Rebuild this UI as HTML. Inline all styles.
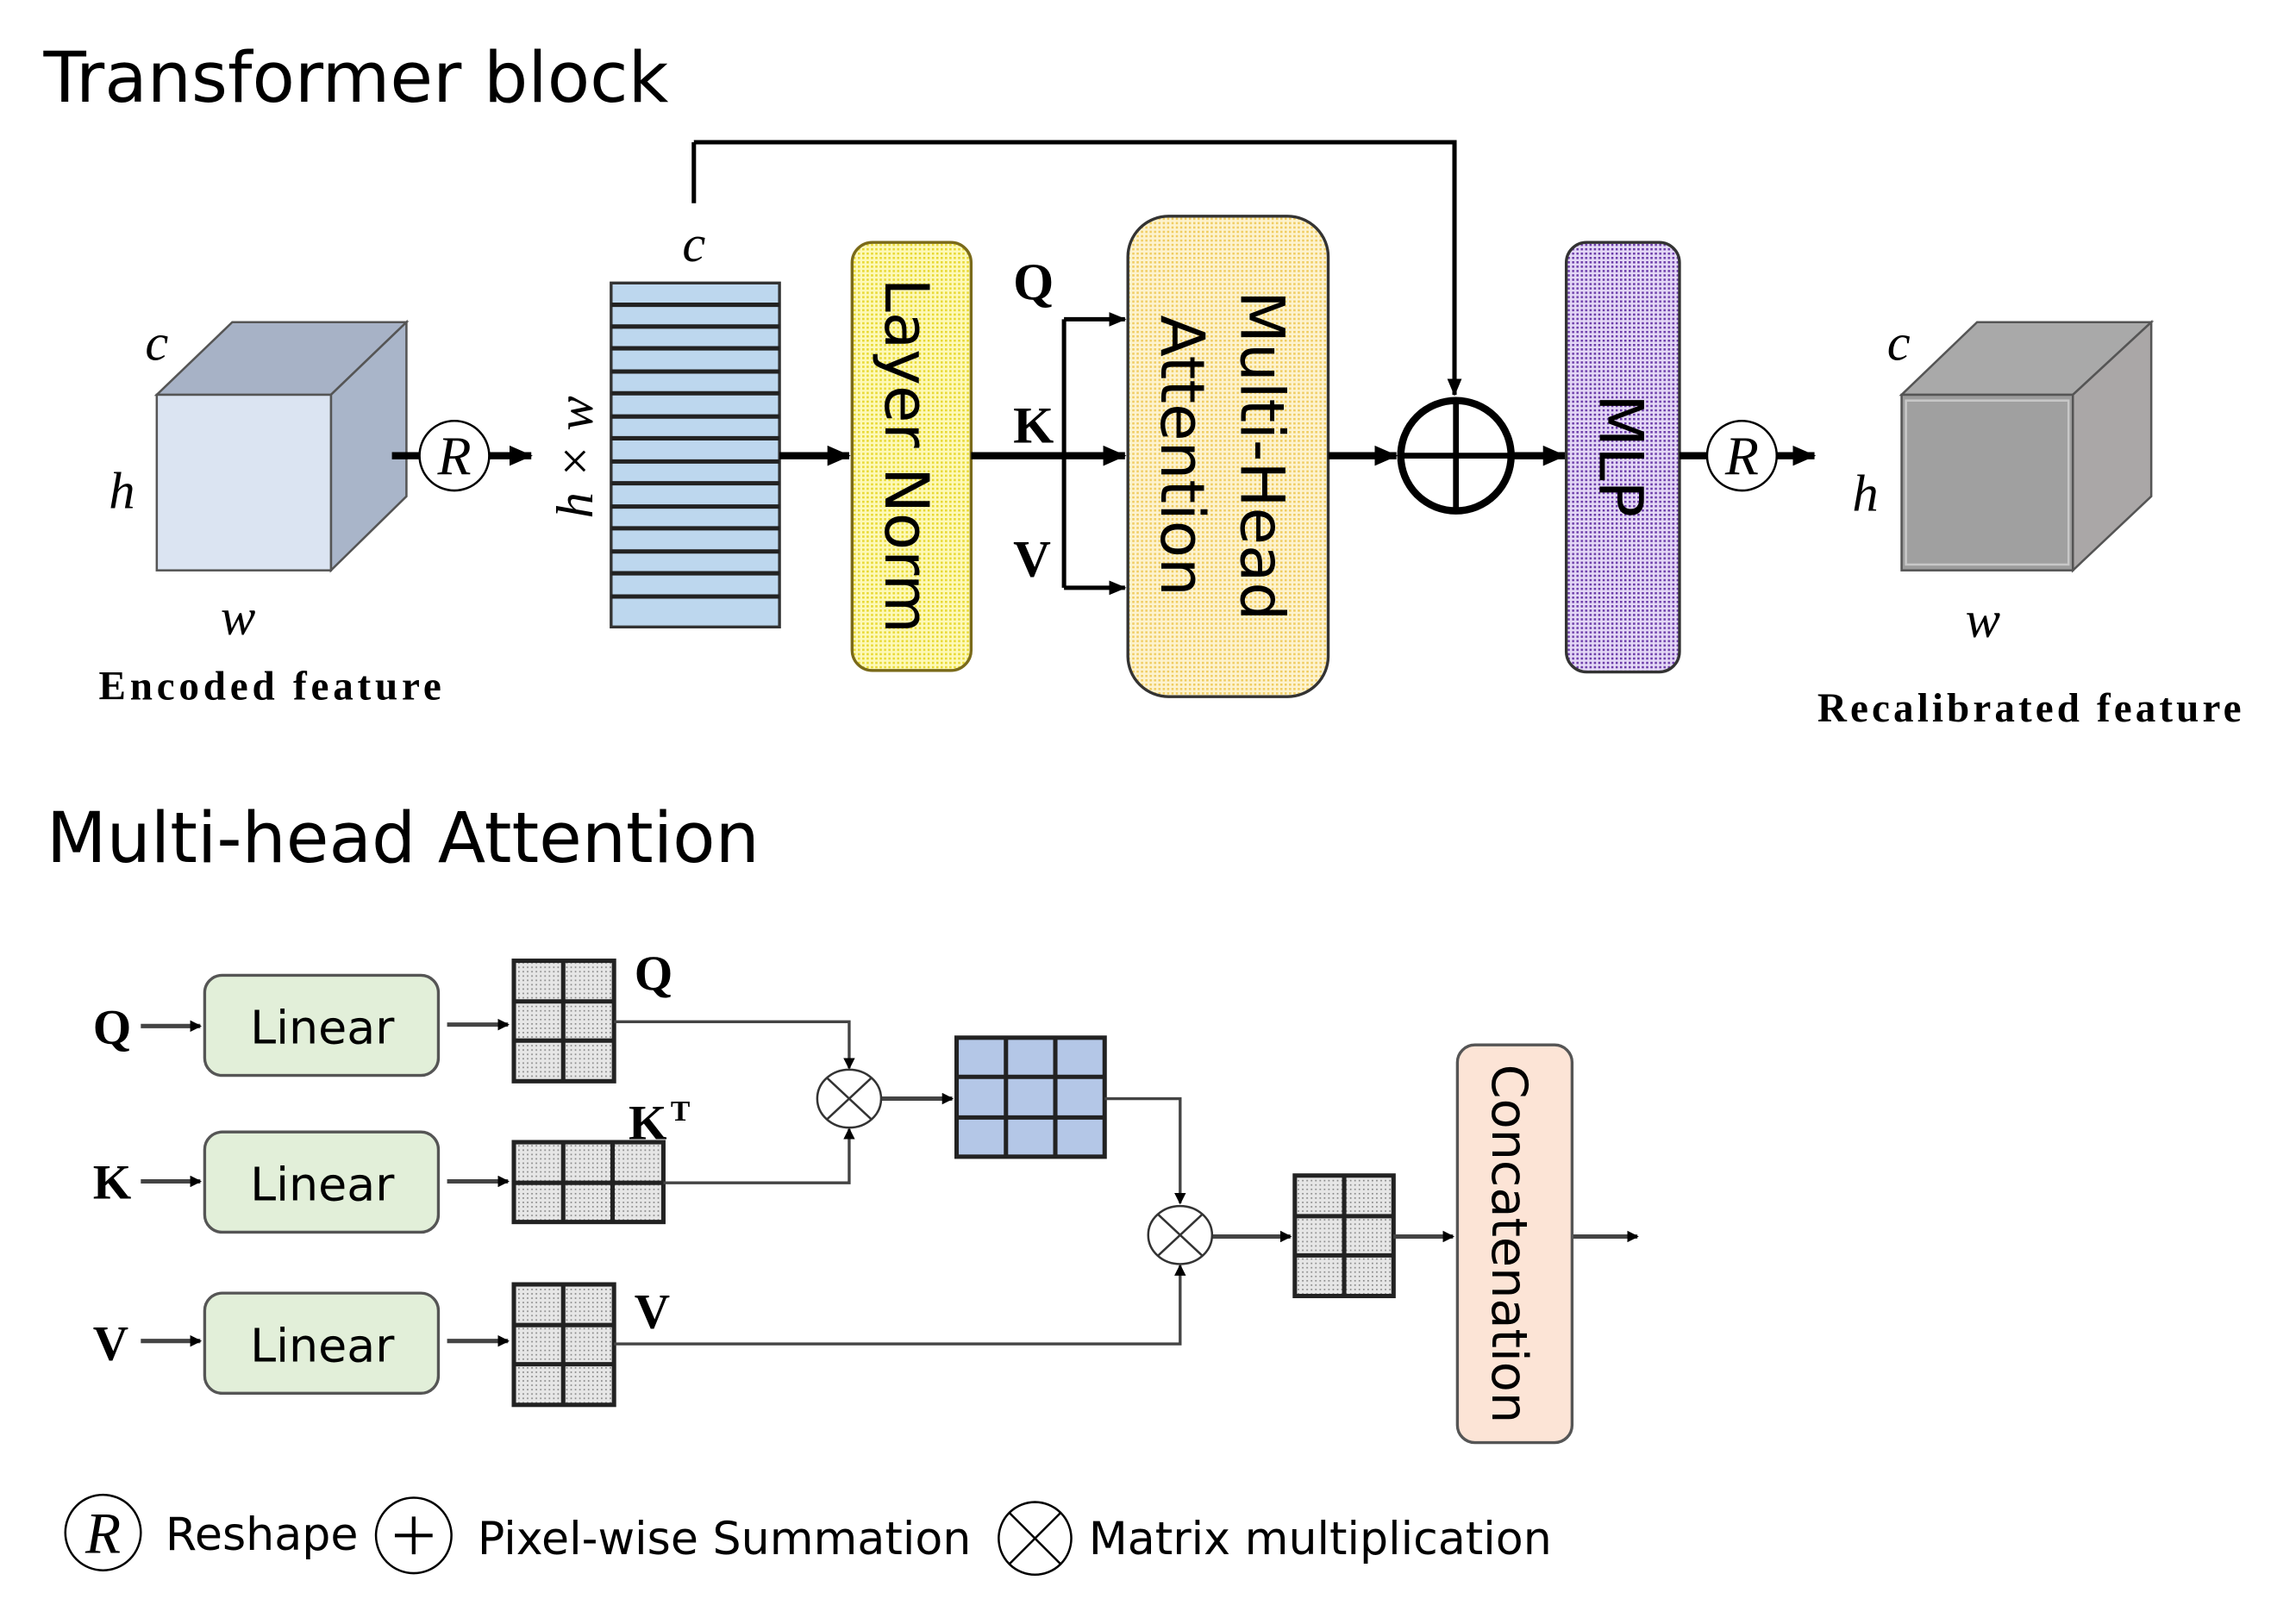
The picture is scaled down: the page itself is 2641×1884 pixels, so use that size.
<!DOCTYPE html>
<html><head><meta charset="utf-8"><style>html,body{margin:0;padding:0;background:#fff}svg{display:block}</style></head>
<body>
<svg width="2641" height="1884" viewBox="0 0 1568 1119" preserveAspectRatio="xMinYMin meet" xmlns="http://www.w3.org/2000/svg">
<defs>
<marker id="a" markerWidth="8" markerHeight="8" refX="7" refY="4" orient="auto" markerUnits="userSpaceOnUse"><path d="M0,0 L8,4 L0,8z" fill="#000"/></marker>
<marker id="b" markerWidth="16" markerHeight="14" refX="15" refY="7" orient="auto" markerUnits="userSpaceOnUse"><path d="M0,0 L16,7 L0,14z" fill="#000"/></marker>
<marker id="c" markerWidth="12" markerHeight="10" refX="11" refY="5" orient="auto" markerUnits="userSpaceOnUse"><path d="M0,0 L12,5 L0,10z" fill="#000"/></marker>
<pattern id="dots" width="3" height="3" patternUnits="userSpaceOnUse"><rect width="3" height="3" fill="#e6e6e6"/><rect width="1" height="1" fill="#888"/></pattern>
<pattern id="pd" width="3" height="3" patternUnits="userSpaceOnUse"><rect width="3" height="3" fill="#e4d8f6"/><rect width="1.5" height="1.5" fill="#6a3aa8"/></pattern>
<pattern id="yd" width="3" height="3" patternUnits="userSpaceOnUse"><rect width="3" height="3" fill="#fdf9b8"/><rect width="1.5" height="1.5" fill="#e8d830"/></pattern>
<pattern id="od" width="3" height="3" patternUnits="userSpaceOnUse"><rect width="3" height="3" fill="#fdf3cf"/><rect width="1.5" height="1.5" fill="#f0cc60"/></pattern>
</defs>
<g font-family="DejaVu Sans, Liberation Sans, sans-serif">
<text x="30" y="70" font-size="48">Transformer block</text>
<text x="32" y="594" font-size="48">Multi-head Attention</text>
</g>
<polygon points="108,272 160,222 280,222 228,272" fill="#a7b2c6" stroke="#555" stroke-width="1.5"/>
<polygon points="228,272 280,222 280,342 228,393" fill="#a9b5c9" stroke="#555" stroke-width="1.5"/>
<rect x="108" y="272" width="120" height="121" fill="#dbe4f2" stroke="#555" stroke-width="1.5"/>
<g font-family="Liberation Serif, serif" font-style="italic" font-size="36">
<text x="100" y="248">c</text><text x="75" y="350">h</text><text x="152" y="437">w</text>
<text x="1300" y="248">c</text><text x="1276" y="352">h</text><text x="1354" y="439">w</text>
<text x="470" y="180">c</text>
</g>
<text x="68" y="482" font-family="Liberation Serif, serif" font-weight="bold" font-size="28" textLength="236">Encoded feature</text>
<text x="1252" y="497" font-family="Liberation Serif, serif" font-weight="bold" font-size="28" textLength="292">Recalibrated feature</text>
<line x1="270" y1="314" x2="366" y2="314" stroke="#000" stroke-width="5" marker-end="url(#b)"/>
<circle cx="313" cy="314" r="24" fill="#fff" stroke="#000" stroke-width="1.5"/>
<text x="313" y="327" text-anchor="middle" font-family="Liberation Serif, serif" font-style="italic" font-size="38">R</text>
<rect x="421" y="195" width="116" height="237" fill="#bdd7ee" stroke="#333" stroke-width="2"/>
<g stroke="#222" stroke-width="3">
<line x1="421" y1="210" x2="537" y2="210"/><line x1="421" y1="225" x2="537" y2="225"/><line x1="421" y1="240" x2="537" y2="240"/><line x1="421" y1="256" x2="537" y2="256"/><line x1="421" y1="271" x2="537" y2="271"/><line x1="421" y1="287" x2="537" y2="287"/><line x1="421" y1="302" x2="537" y2="302"/><line x1="421" y1="318" x2="537" y2="318"/><line x1="421" y1="333" x2="537" y2="333"/><line x1="421" y1="349" x2="537" y2="349"/><line x1="421" y1="364" x2="537" y2="364"/><line x1="421" y1="380" x2="537" y2="380"/><line x1="421" y1="395" x2="537" y2="395"/><line x1="421" y1="411" x2="537" y2="411"/>
</g>
<text transform="translate(408,315) rotate(-90)" text-anchor="middle" font-family="Liberation Serif, serif" font-style="italic" font-size="36">h × w</text>
<line x1="478" y1="140" x2="478" y2="98" stroke="#000" stroke-width="3"/>
<polyline points="478,98 1002,98 1002,272" fill="none" stroke="#000" stroke-width="3" marker-end="url(#c)"/>
<line x1="537" y1="314" x2="585" y2="314" stroke="#000" stroke-width="5" marker-end="url(#b)"/>
<rect x="587" y="167" width="82" height="295" rx="14" fill="url(#yd)" stroke="#7a6a1a" stroke-width="2"/>
<text transform="translate(610,314) rotate(90)" text-anchor="middle" font-family="DejaVu Sans, sans-serif" font-size="42">Layer Norm</text>
<line x1="669" y1="314" x2="775" y2="314" stroke="#000" stroke-width="5" marker-end="url(#b)"/>
<line x1="733" y1="220" x2="733" y2="405" stroke="#000" stroke-width="3"/>
<line x1="733" y1="220" x2="775" y2="220" stroke="#000" stroke-width="3" marker-end="url(#c)"/>
<line x1="733" y1="405" x2="775" y2="405" stroke="#000" stroke-width="3" marker-end="url(#c)"/>
<g font-family="Liberation Serif, serif" font-weight="bold" font-size="36">
<text x="698" y="206">Q</text><text x="698" y="305">K</text><text x="698" y="397">V</text>
</g>
<rect x="777" y="149" width="138" height="331" rx="28" fill="url(#od)" stroke="#333" stroke-width="2"/>
<text transform="translate(855,314) rotate(90)" text-anchor="middle" font-family="DejaVu Sans, sans-serif" font-size="42">Multi-Head</text>
<text transform="translate(800,314) rotate(90)" text-anchor="middle" font-family="DejaVu Sans, sans-serif" font-size="42">Attention</text>
<line x1="915" y1="314" x2="962" y2="314" stroke="#000" stroke-width="5" marker-end="url(#b)"/>
<circle cx="1003" cy="314" r="38" fill="#fff" stroke="#000" stroke-width="5"/>
<line x1="965" y1="314" x2="1041" y2="314" stroke="#000" stroke-width="4"/>
<line x1="1003" y1="276" x2="1003" y2="352" stroke="#000" stroke-width="4"/>
<line x1="1041" y1="314" x2="1078" y2="314" stroke="#000" stroke-width="5" marker-end="url(#b)"/>
<rect x="1079" y="167" width="78" height="296" rx="14" fill="url(#pd)" stroke="#333" stroke-width="2"/>
<text transform="translate(1102,314) rotate(90)" text-anchor="middle" font-family="DejaVu Sans, sans-serif" font-size="42">MLP</text>
<line x1="1157" y1="314" x2="1250" y2="314" stroke="#000" stroke-width="5" marker-end="url(#b)"/>
<circle cx="1200" cy="314" r="24" fill="#fff" stroke="#000" stroke-width="1.5"/>
<text x="1200" y="327" text-anchor="middle" font-family="Liberation Serif, serif" font-style="italic" font-size="38">R</text>
<polygon points="1310,272 1362,222 1482,222 1428,272" fill="#a9a9a9" stroke="#555" stroke-width="1.5"/>
<polygon points="1428,272 1482,222 1482,342 1428,393" fill="#aaa7a7" stroke="#555" stroke-width="1.5"/>
<rect x="1310" y="272" width="118" height="121" fill="#9c9c9c" stroke="#555" stroke-width="1.5"/>
<rect x="1313" y="276" width="112" height="113" fill="#a0a0a0" stroke="#c8c8c8" stroke-width="1.5"/>
<g font-family="Liberation Serif, serif" font-weight="bold" font-size="34">
<text x="64" y="719">Q</text><text x="64" y="826">K</text><text x="64" y="937">V</text>
<text x="437" y="682">Q</text><text x="433" y="785">K</text><text x="462" y="772" font-size="20">T</text><text x="437" y="915">V</text>
</g>
<g stroke="#444" stroke-width="3" marker-end="url(#a)">
<line x1="97" y1="707" x2="138" y2="707"/><line x1="97" y1="814" x2="138" y2="814"/><line x1="97" y1="924" x2="138" y2="924"/>
<line x1="308" y1="706" x2="350" y2="706"/><line x1="308" y1="814" x2="350" y2="814"/><line x1="308" y1="924" x2="350" y2="924"/>
</g>
<g fill="#e2efd9" stroke="#555" stroke-width="2">
<rect x="141" y="672" width="161" height="69" rx="12"/><rect x="141" y="780" width="161" height="69" rx="12"/><rect x="141" y="891" width="161" height="69" rx="12"/>
</g>
<g font-family="DejaVu Sans, sans-serif" font-size="32" text-anchor="middle">
<text x="222" y="719">Linear</text><text x="222" y="827">Linear</text><text x="222" y="938">Linear</text>
</g>
<g stroke="#222" stroke-width="3" fill="url(#dots)">
<rect x="354" y="662" width="69" height="83"/><line x1="388" y1="662" x2="388" y2="745"/><line x1="354" y1="690" x2="423" y2="690"/><line x1="354" y1="717" x2="423" y2="717"/>
<rect x="354" y="787" width="103" height="55"/><line x1="388" y1="787" x2="388" y2="842"/><line x1="422" y1="787" x2="422" y2="842"/><line x1="354" y1="815" x2="457" y2="815"/>
<rect x="354" y="885" width="69" height="83"/><line x1="388" y1="885" x2="388" y2="968"/><line x1="354" y1="913" x2="423" y2="913"/><line x1="354" y1="940" x2="423" y2="940"/>
<rect x="892" y="810" width="68" height="83"/><line x1="926" y1="810" x2="926" y2="893"/><line x1="892" y1="838" x2="960" y2="838"/><line x1="892" y1="865" x2="960" y2="865"/>
</g>
<g stroke="#222" stroke-width="3" fill="#b4c7e7">
<rect x="659" y="715" width="102" height="82"/><line x1="693" y1="715" x2="693" y2="797"/><line x1="727" y1="715" x2="727" y2="797"/><line x1="659" y1="742" x2="761" y2="742"/><line x1="659" y1="770" x2="761" y2="770"/>
</g>
<g fill="none" stroke="#444" stroke-width="2" marker-end="url(#a)">
<polyline points="423,704 585,704 585,736"/>
<polyline points="457,815 585,815 585,778"/>
<polyline points="761,757 813,757 813,829"/>
<polyline points="423,926 813,926 813,872"/>
</g>
<g stroke="#444" stroke-width="3" marker-end="url(#a)">
<line x1="607" y1="757" x2="656" y2="757"/><line x1="835" y1="852" x2="889" y2="852"/><line x1="960" y1="852" x2="1001" y2="852"/><line x1="1083" y1="852" x2="1128" y2="852"/>
</g>
<g fill="#fff" stroke="#333" stroke-width="1.5">
<ellipse cx="585" cy="757" rx="22" ry="20"/><line x1="570" y1="743" x2="600" y2="771"/><line x1="600" y1="743" x2="570" y2="771"/>
<ellipse cx="813" cy="851" rx="22" ry="20"/><line x1="798" y1="837" x2="828" y2="865"/><line x1="828" y1="837" x2="798" y2="865"/>
</g>
<rect x="1004" y="720" width="79" height="274" rx="12" fill="#fce4d6" stroke="#555" stroke-width="2"/>
<text transform="translate(1028,857) rotate(90)" text-anchor="middle" font-family="DejaVu Sans, sans-serif" font-size="34">Concatenation</text>
<circle cx="71" cy="1056" r="26" fill="#fff" stroke="#000" stroke-width="1.5"/>
<text x="71" y="1070" text-anchor="middle" font-family="Liberation Serif, serif" font-style="italic" font-size="40">R</text>
<circle cx="285" cy="1058" r="26" fill="#fff" stroke="#000" stroke-width="1.5"/>
<line x1="285" y1="1045" x2="285" y2="1071" stroke="#000" stroke-width="2.5"/><line x1="272" y1="1058" x2="298" y2="1058" stroke="#000" stroke-width="2.5"/>
<circle cx="713" cy="1060" r="25" fill="#fff" stroke="#000" stroke-width="1.5"/>
<line x1="695" y1="1042" x2="731" y2="1078" stroke="#000" stroke-width="1.5"/><line x1="731" y1="1042" x2="695" y2="1078" stroke="#000" stroke-width="1.5"/>
<g font-family="DejaVu Sans, sans-serif" font-size="31">
<text x="114" y="1068">Reshape</text><text x="329" y="1071">Pixel-wise Summation</text><text x="750" y="1071">Matrix multiplication</text>
</g>
</svg>
</body></html>
